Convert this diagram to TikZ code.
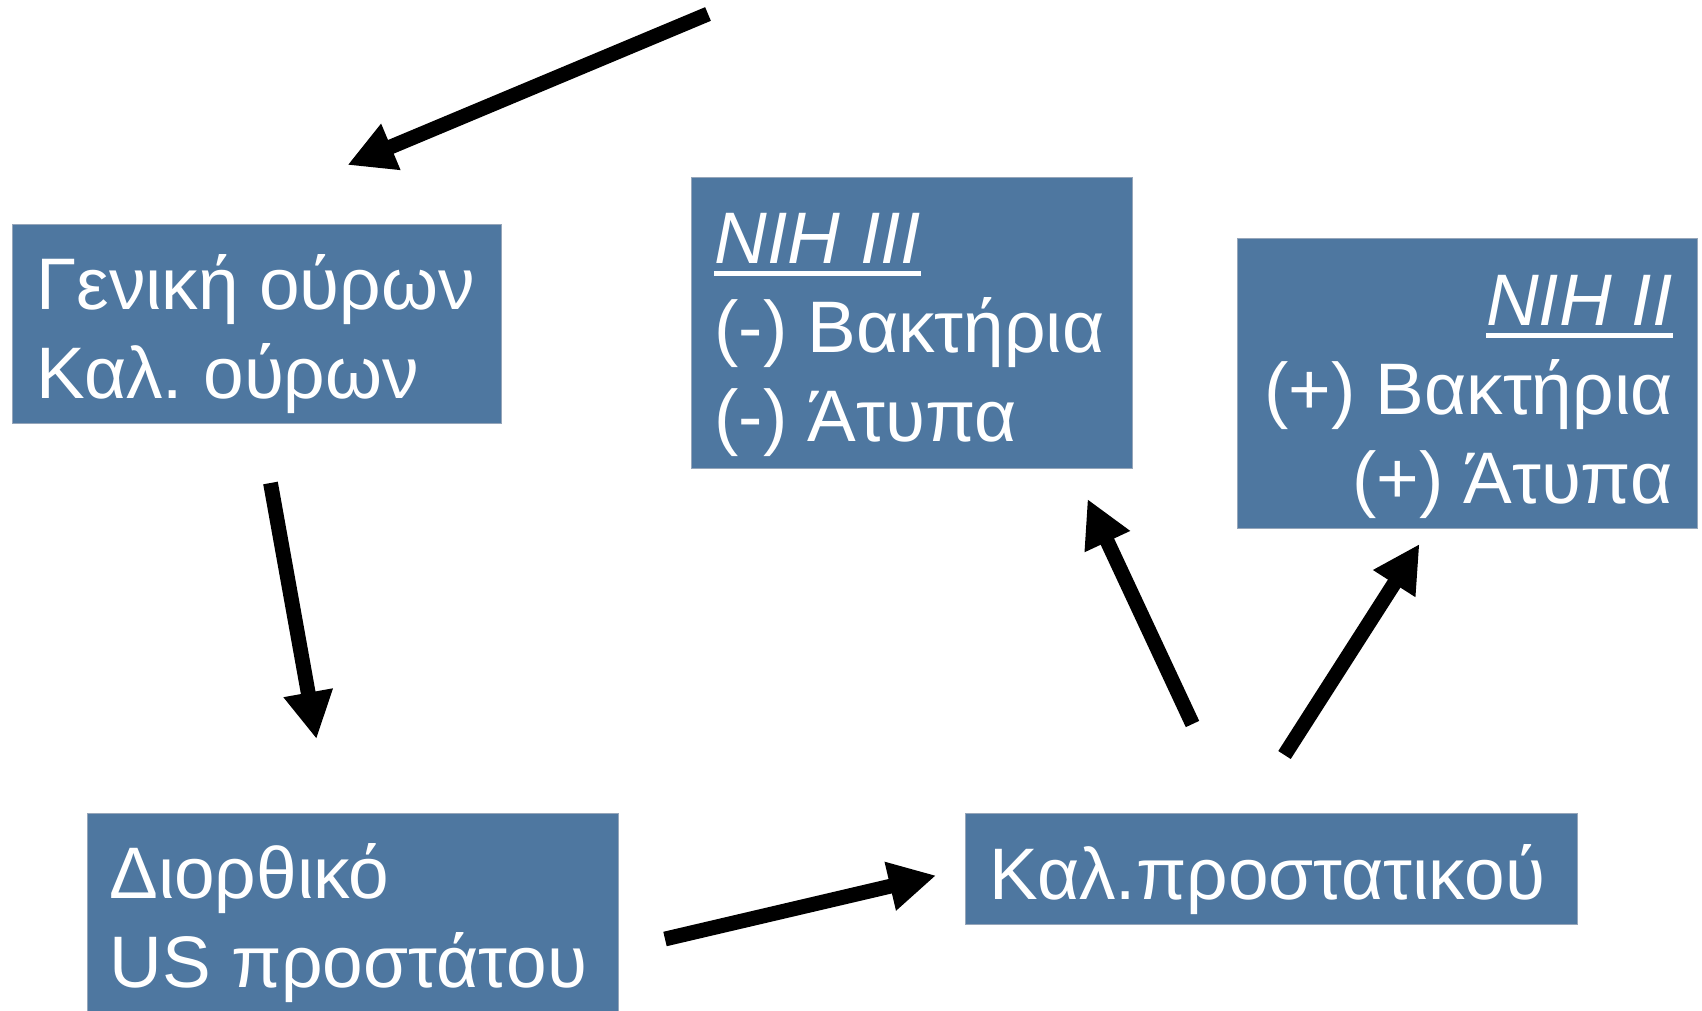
\documentclass[tikz,border=0pt]{standalone}
\usepackage{fontspec}
\setmainfont{Liberation Sans}
\usepackage{xcolor}
\usetikzlibrary{arrows.meta, positioning}

\definecolor{boxblue}{RGB}{78,119,160}
\definecolor{boxedge}{RGB}{150,166,186}

\newcommand{\nihline}[1]{\setbox0\hbox{\itshape #1}\rlap{\rule[-6.6pt]{\wd0}{2.7pt}}\box0}

\tikzset{
  stepbox/.style={fill=boxblue, draw=boxedge, line width=0.5pt, inner sep=0pt, anchor=north west},
  boxtext/.style={text=white, font=\fontsize{36.5pt}{44.5pt}\selectfont\frenchspacing, inner sep=0pt},
  flow/.style={line width=7.4pt, -{Triangle[length=23.5pt,width=23.5pt]}}
}

\begin{document}
\begin{tikzpicture}[x=0.5pt, y=-0.5pt]
  \useasboundingbox (0,0) rectangle (1702,1011);

  % Boxes
  \node[stepbox, minimum width=244.5pt, minimum height=99.5pt] (urine) at (12,224) {};
  \node[stepbox, minimum width=220.5pt, minimum height=145.5pt] (nih3) at (691,177) {};
  \node[stepbox, minimum width=230pt, minimum height=145pt] (nih2) at (1237,238) {};
  \node[stepbox, minimum width=265.5pt, minimum height=101.5pt] (dre) at (87,813) {};
  \node[stepbox, minimum width=306pt, minimum height=55.5pt] (culture) at (965,813) {};

  % Texts (base = last line)
  \node[boxtext, align=left, anchor=base west] (urinetxt) at ([shift={(24,174)}]urine.north west)
    {Γενική ούρων\\Καλ. ούρων};
  \node[boxtext, align=left, anchor=base west] (nih3txt) at ([shift={(23,264)}]nih3.north west)
    {\nihline{NIH III}\\(-) Βακτήρια\\(-) Άτυπα};
  \node[boxtext, align=right, anchor=base east] (nih2txt) at ([shift={(-25,265)}]nih2.north east)
    {\nihline{NIH II}\\(+) Βακτήρια\\(+) Άτυπα};
  \node[boxtext, align=left, anchor=base west] (dretxt) at ([shift={(22,174)}]dre.north west)
    {Διορθικό\\US προστάτου};
  \node[boxtext, align=left, anchor=base west] (culturetxt) at ([shift={(24,86)}]culture.north west)
    {Καλ.προστατικού};

  % Arrows
  \coordinate (start) at (708,14);
  \draw[flow] (start) -- ([shift={(90.5,-59)}]urine.north);
  \draw[flow] ([shift={(13.5,59)}]urine.south) -- ([shift={(-36.5,-74)}]dre.north);
  \draw[flow] ([shift={(46,24)}]dre.east) -- ([shift={(-29,6.5)}]culture.west);
  \draw[flow] ([shift={(-79,-89)}]culture.north) -- ([shift={(175.5,30)}]nih3.south);
  \draw[flow] ([shift={(13,-58)}]culture.north) -- ([shift={(-48,15)}]nih2.south);
\end{tikzpicture}
\end{document}
